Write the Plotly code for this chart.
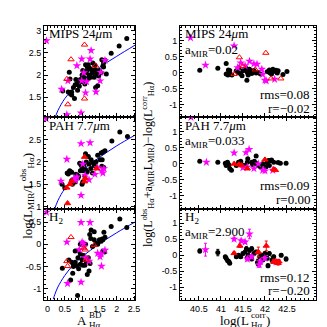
import plotly.graph_objects as go
from plotly.subplots import make_subplots

# ---- left column: log(L_MIR / L_Ha^obs) vs A_Ha^BD ----
mips_blk_a = [2.29, 2.07, 1.84, 1.57, 1.66, 1.62, 1.10, 1.18, 1.31, 1.37, 0.63, 0.65, 0.44, 0.60, 0.66, 0.70, 0.78, 0.87, 1.39, 1.45,
              1.00, 1.05, 1.10, 1.15, 1.20, 1.25, 1.12, 1.00, 0.95, 0.90, 0.85, 0.80, 0.92, 1.08, 1.18, 1.30, 1.35, 1.42, 1.50, 1.55,
              1.60, 1.48, 1.22, 1.28, 0.75, 0.70, 0.82, 1.02, 1.15, 1.38, 1.62, 1.70]
mips_blk_y = [2.82, 2.65, 2.49, 2.34, 2.33, 2.27, 2.23, 2.23, 2.27, 2.22, 2.06, 1.91, 1.64, 1.62, 1.58, 1.55, 1.47, 1.66, 1.72, 1.76,
              2.00, 1.95, 2.05, 2.10, 2.00, 1.95, 1.88, 1.85, 1.90, 1.82, 1.80, 1.78, 1.75, 1.80, 1.92, 2.05, 1.95, 2.02, 2.10, 2.05,
              2.20, 1.98, 2.15, 2.12, 1.72, 1.62, 1.90, 2.10, 2.18, 2.12, 2.18, 2.02]
mips_mag_a = [-0.03, 1.26, 0.99, 1.23, 0.85, 0.59, 0.41, 0.99, 1.54, 1.52, 1.40, 1.10, 1.66, 0.56, 0.97, 1.13, 1.05]
mips_mag_y = [2.77, 2.55, 2.36, 2.36, 2.21, 1.87, 1.68, 1.87, 2.06, 1.87, 1.62, 1.60, 2.33, 1.11, 1.15, 1.85, 2.05]
mips_red_a = [1.07, 0.68, 0.56, 1.39, 1.07, 0.59]
mips_red_y = [2.68, 2.35, 1.91, 2.21, 1.47, 1.34]

pah_blk_a = [2.31, 2.09, 1.86, 1.66, 1.60, 1.55, 1.45, 1.52, 1.58, 1.40, 1.32, 1.35, 1.26, 1.18, 1.10, 1.12, 1.20, 1.05, 0.97, 0.93,
             1.00, 0.95, 1.03, 1.10, 1.15, 1.25, 1.62, 1.57, 0.64, 0.67, 0.70, 0.57, 0.60, 0.82, 0.86, 0.90, 0.88, 0.78, 1.02, 1.00,
             0.70, 0.72, 0.42, 0.50, 0.80, 1.08, 1.30]
pah_blk_y = [2.57, 2.67, 2.47, 2.25, 2.22, 2.20, 2.15, 2.05, 2.05, 2.00, 1.98, 1.92, 2.05, 2.12, 2.18, 2.00, 1.95, 1.92, 1.93, 1.97,
             1.86, 1.80, 1.80, 1.83, 1.78, 1.85, 1.88, 1.90, 1.80, 1.78, 1.77, 1.75, 1.73, 1.72, 1.70, 1.68, 1.64, 1.62, 1.55, 1.50,
             1.58, 1.50, 1.50, 1.42, 1.55, 1.68, 1.75]
pah_mag_a = [-0.04, 0.97, 1.23, 0.56, 1.02, 0.39, 0.79, 0.80, 1.09, 1.37, 1.57, 1.63, 1.60, 1.45, 0.97, 1.20, 0.85]
pah_mag_y = [2.97, 2.41, 2.43, 2.06, 1.95, 1.57, 1.63, 1.58, 1.70, 1.72, 1.80, 1.85, 1.75, 1.87, 1.25, 1.60, 1.66]
pah_red_a = [0.58, 0.70, 0.56, 1.09, 1.42, 1.07, 1.07, 0.65]
pah_red_y = [1.07, 1.57, 1.42, 1.63, 1.85, 2.11, 1.56, 1.50]

h2_blk_a = [2.09, 2.29, 1.84, 1.66, 1.26, 1.35, 1.22, 1.25, 1.35, 1.50, 1.55, 1.60, 1.40, 1.45, 0.95, 1.00, 1.10, 0.80, 0.90, 0.95,
            0.88, 0.70, 0.75, 0.80, 0.85, 0.95, 1.02, 1.08, 1.12, 1.20, 1.15, 0.43, 0.75, 0.73, 0.67, 0.87, 1.60, 1.65, 1.30, 1.05,
            1.18, 0.62, 0.90, 1.00, 1.58, 1.63, 1.23]
h2_blk_y = [0.57, 0.38, 0.40, 0.16, 0.32, 0.28, 0.22, 0.13, 0.10, 0.10, 0.07, 0.10, 0.03, 0.00, 0.00, 0.03, 0.00, -0.15, -0.15, -0.22,
            -0.30, -0.40, -0.45, -0.40, -0.48, -0.45, -0.47, -0.47, -0.38, -0.60, -0.68, -0.54, -0.50, -0.65, -0.80, -1.15, -0.15, -0.17, -0.05, -0.25,
            -0.30, -0.35, -0.55, -0.35, 0.12, 0.27, -0.43]
h2_mag_a = [-0.03, 0.97, 1.23, 0.56, 1.04, 1.06, 1.52, 1.66, 1.45, 1.55, 1.56, 0.58, 0.97, 1.10, 1.20, 0.92, 1.00]
h2_mag_y = [0.72, 0.49, 0.49, 0.05, 0.01, -0.05, -0.28, -0.13, -0.20, -0.22, -0.49, -0.88, -0.85, -0.30, -0.38, -0.12, 0.05]
h2_red_a = [0.68, 0.56, 0.58, 1.09, 1.35, 1.12, 1.05]
h2_red_y = [0.16, -0.38, -0.49, -0.12, -0.02, -0.35, -0.08]

# model curves
curve_a = [0.17, 0.21, 0.3, 0.5, 0.75, 1.0, 1.5, 2.0, 2.55]
mips_curve = [0.93, 1.02, 1.20, 1.47, 1.70, 1.88, 2.17, 2.42, 2.68]
pah_curve = [0.86, 0.95, 1.13, 1.40, 1.63, 1.81, 2.10, 2.36, 2.61]
h2_curve = [-1.23, -1.13, -0.96, -0.70, -0.46, -0.28, 0.01, 0.26, 0.51]

# ---- right column: residuals vs log(L_Ha^corr) ----
r_mips_blk_x = [40.52, 40.93, 41.12, 41.17, 41.20, 41.12, 41.16, 41.20, 41.25, 41.41, 41.59, 41.40, 41.45, 41.50, 41.55, 41.60, 41.62, 41.68, 41.70,
                41.75, 41.80, 41.48, 41.35, 41.65, 42.05, 42.10, 42.12, 42.18, 42.20, 42.25, 42.30, 42.15, 42.41, 42.50, 41.85, 41.90, 42.28, 41.58]
r_mips_blk_y = [0.07, 0.13, 0.28, 0.08, 0.06, -0.05, -0.08, -0.04, -0.08, 0.15, -0.24, 0.00, -0.05, 0.05, 0.08, 0.00, -0.08, 0.05, -0.03,
                0.06, -0.02, -0.10, 0.05, 0.10, 0.02, 0.08, -0.02, 0.10, 0.03, 0.07, 0.05, -0.05, -0.06, 0.03, 0.00, -0.05, -0.02, 0.12]
r_mips_mag_x = [40.31, 40.65, 41.30, 41.65, 41.55, 41.75, 41.82, 41.93, 42.00, 42.03, 41.95, 42.22, 41.45, 41.38]
r_mips_mag_y = [1.08, 0.23, 0.83, 0.35, 0.21, 0.27, 0.26, 0.10, -0.24, -0.26, -0.06, -0.21, 0.30, 0.15]
r_mips_red_x = [41.30, 41.42, 41.78, 42.02, 42.14, 42.36, 41.50]
r_mips_red_y = [-0.05, 0.47, 0.09, 0.61, -0.19, -0.19, 0.20]

r_pah_blk_x = [40.52, 40.93, 41.10, 41.12, 41.15, 41.18, 41.20, 41.24, 41.40, 41.43, 41.45, 41.47, 41.61, 41.80, 41.70, 41.72, 41.76, 41.80,
               41.84, 42.05, 42.08, 42.12, 42.15, 42.20, 42.10, 42.02, 42.35, 42.30, 41.55, 41.60, 41.90, 41.95, 42.48, 41.35]
r_pah_blk_y = [0.08, 0.05, 0.02, -0.05, 0.05, -0.03, -0.15, -0.20, 0.05, 0.02, 0.08, -0.02, 0.16, 0.24, 0.05, -0.02, 0.08, 0.02,
               -0.05, 0.03, 0.10, 0.10, 0.12, 0.05, -0.05, -0.10, 0.02, 0.04, -0.05, 0.05, -0.10, 0.00, 0.02, -0.05]
r_pah_mag_x = [40.32, 40.67, 41.30, 41.57, 41.64, 41.60, 41.95, 42.00, 42.18, 41.50, 41.85, 41.75]
r_pah_mag_y = [1.45, 0.05, 0.34, 0.35, 0.45, -0.10, -0.20, -0.22, -0.20, -0.12, 0.00, -0.15]
r_pah_red_x = [41.41, 41.47, 42.00, 42.24, 42.20, 41.60, 41.30]
r_pah_red_y = [-0.02, -0.05, 0.13, -0.20, -0.17, -0.15, 0.00]

r_h2_blk_x = [40.52, 40.93, 41.10, 41.12, 41.15, 41.18, 41.20, 41.40, 41.45, 41.50, 41.55, 41.60, 41.65, 41.70, 41.75, 41.83, 41.80, 41.88,
              41.92, 42.07, 42.16, 42.00, 42.10, 42.20, 42.37, 42.48, 41.35, 41.62, 41.70, 41.95, 42.05, 41.58]
r_h2_blk_y = [0.13, 0.08, -0.05, -0.10, -0.17, -0.20, -0.25, 0.00, -0.05, 0.05, 0.10, -0.08, 0.15, 0.20, 0.05, -0.23, 0.10, -0.05,
              0.00, -0.33, -0.15, 0.05, 0.05, -0.05, 0.00, -0.12, -0.05, 0.00, -0.12, -0.15, -0.10, 0.20]
r_h2_blk_err = [0.06, 0.1, 0.04, 0.04, 0.04, 0.04, 0.04, 0.05, 0.05, 0.05, 0.05, 0.05, 0.06, 0.06, 0.05, 0.1, 0.05, 0.05,
                0.05, 0.06, 0.1, 0.05, 0.05, 0.05, 0.05, 0.06, 0.05, 0.05, 0.05, 0.05, 0.05, 0.06]
r_h2_mag_x = [40.65, 41.30, 41.46, 41.55, 41.65, 41.90, 41.87, 41.60, 41.70, 42.00, 42.25]
r_h2_mag_y = [0.17, 0.50, 0.45, 0.41, 0.66, -0.20, -0.30, -0.12, -0.05, -0.10, -0.22]
r_h2_mag_err = [0.2, 0.05, 0.05, 0.05, 0.15, 0.08, 0.08, 0.06, 0.06, 0.06, 0.06]
r_h2_red_x = [41.30, 41.43, 42.03, 42.20, 42.27, 42.32, 42.30, 41.85]
r_h2_red_y = [0.06, 0.29, 0.29, -0.20, -0.20, -0.20, -0.25, 0.10]
r_h2_red_err = [0.04, 0.05, 0.15, 0.06, 0.06, 0.06, 0.06, 0.15]

panel_names = ["MIPS 24<i>μ</i>m", "PAH 7.7<i>μ</i>m", "H<sub>2</sub>"]
a_mir_labels = ["a<sub>MIR</sub>=0.02", "a<sub>MIR</sub>=0.033", "a<sub>MIR</sub>=2.900"]
rms_labels = ["rms=0.08", "rms=0.09", "rms=0.12"]
r_labels = ["r=−0.02", "r=0.00", "r=−0.20"]

SERIF = "Liberation Serif, Times New Roman, serif"
SANS = "Liberation Sans, Arial, sans-serif"
MAG = "#ff00ff"
RED = "#ff0000"


def add_points(fig, row, col, blk, mag, red, red_open, errs=None):
    kw = lambda e, c: dict(error_y=dict(type="data", array=e, thickness=1, width=1.5, color=c)) if e else {}
    fig.add_trace(go.Scatter(x=blk[0], y=blk[1], mode="markers", marker=dict(symbol="circle", size=5, color="black"),
                             **kw(errs and errs[0], "black")), row=row, col=col)
    fig.add_trace(go.Scatter(x=mag[0], y=mag[1], mode="markers", marker=dict(symbol="star", size=6.5, color=MAG),
                             **kw(errs and errs[1], MAG)), row=row, col=col)
    sym = "triangle-up-open" if red_open else "triangle-up"
    fig.add_trace(go.Scatter(x=red[0], y=red[1], mode="markers",
                             marker=dict(symbol=sym, size=5.5, color=RED, line=dict(width=1, color=RED)),
                             **kw(errs and errs[2], RED)), row=row, col=col)


fig = make_subplots(rows=3, cols=2, vertical_spacing=0, horizontal_spacing=0.165, column_widths=[0.401, 0.599])

# left column
for row, cy in zip([1, 2, 3], [mips_curve, pah_curve, h2_curve]):
    fig.add_trace(go.Scatter(x=curve_a, y=cy, mode="lines", line=dict(color="#0000ff", width=1, shape="spline")),
                  row=row, col=1)
add_points(fig, 1, 1, (mips_blk_a, mips_blk_y), (mips_mag_a, mips_mag_y), (mips_red_a, mips_red_y), True)
add_points(fig, 2, 1, (pah_blk_a, pah_blk_y), (pah_mag_a, pah_mag_y), (pah_red_a, pah_red_y), False)
add_points(fig, 3, 1, (h2_blk_a, h2_blk_y), (h2_mag_a, h2_mag_y), (h2_red_a, h2_red_y), True)

# right column
for row in [1, 2, 3]:
    fig.add_hline(y=0, line=dict(color="#33dd33", width=1.3, dash="dash"), row=row, col=2)
add_points(fig, 1, 2, (r_mips_blk_x, r_mips_blk_y), (r_mips_mag_x, r_mips_mag_y), (r_mips_red_x, r_mips_red_y), True)
add_points(fig, 2, 2, (r_pah_blk_x, r_pah_blk_y), (r_pah_mag_x, r_pah_mag_y), (r_pah_red_x, r_pah_red_y), False)
add_points(fig, 3, 2, (r_h2_blk_x, r_h2_blk_y), (r_h2_mag_x, r_h2_mag_y), (r_h2_red_x, r_h2_red_y), False,
           errs=(r_h2_blk_err, r_h2_mag_err, r_h2_red_err))

axis_style = dict(showline=True, linecolor="black", linewidth=1, mirror="allticks", ticks="inside", ticklen=4,
                  tickcolor="black", showgrid=False, zeroline=False, tickfont=dict(family=SANS, size=9, color="black"),
                  minor=dict(ticks="inside", ticklen=2, tickcolor="black", dtick=0.1))

left_ranges = [[1.05, 3.1], [0.95, 3.0], [-1.25, 0.8]]
left_ticks = [[1.5, 2, 2.5, 3], [1, 1.5, 2, 2.5], [-1, -0.5, 0, 0.5]]
for i, row in enumerate([1, 2, 3]):
    fig.update_xaxes(axis_style, range=[-0.1, 2.53], tickvals=[0, 0.5, 1, 1.5, 2, 2.5], ticktext=["0", "0.5", "1", "1.5", "2", "2.5"],
                     showticklabels=(row == 3), row=row, col=1)
    fig.update_yaxes(axis_style, range=left_ranges[i], tickvals=left_ticks[i], row=row, col=1)
    fig.update_xaxes(axis_style, range=[40.07, 43.16], tickvals=[40.5, 41, 41.5, 42, 42.5], ticktext=["40.5", "41", "41.5", "42", "42.5"],
                     showticklabels=(row == 3), row=row, col=2)
    fig.update_yaxes(axis_style, range=[-1.4, 1.45], tickvals=[-1, -0.5, 0, 0.5, 1], ticktext=["-1", "-0.5", "0", "0.5", "1"],
                     row=row, col=2)
fig.update_yaxes(ticktext=["-1", "-0.5", "0", "0.5"], row=3, col=1)

txt = dict(family=SERIF, size=13, color="black")
for i in range(3):
    lx, ly = ("x" if i == 0 else f"x{2 * i + 1}"), ("y" if i == 0 else f"y{2 * i + 1}")
    rx, ry = f"x{2 * i + 2}", f"y{2 * i + 2}"
    fig.add_annotation(text=panel_names[i], xref=f"{lx} domain", yref=f"{ly} domain", x=0.03, y=1.02,
                       xanchor="left", yanchor="top", showarrow=False, font=txt)
    fig.add_annotation(text=panel_names[i], xref=f"{rx} domain", yref=f"{ry} domain", x=0.02, y=1.02,
                       xanchor="left", yanchor="top", showarrow=False, font=txt)
    fig.add_annotation(text=a_mir_labels[i], xref=f"{rx} domain", yref=f"{ry} domain", x=0.02, y=0.85,
                       xanchor="left", yanchor="top", showarrow=False, font=txt)
    fig.add_annotation(text=rms_labels[i], xref=f"{rx} domain", yref=f"{ry} domain", x=0.97, y=0.25,
                       xanchor="right", yanchor="middle", showarrow=False, font=txt)
    fig.add_annotation(text=r_labels[i], xref=f"{rx} domain", yref=f"{ry} domain", x=0.97, y=0.1,
                       xanchor="right", yanchor="middle", showarrow=False, font=txt)

# x titles with stacked super/subscripts built from separate pieces
big = dict(family=SERIF, size=13, color="black")
small = dict(family=SERIF, size=9, color="black")
x_title_parts = [
    ("A", 0.1636, -0.073, "right", big),
    ("BD", 0.1618, -0.0547, "left", small),
    ("Hα", 0.1618, -0.093, "left", small),
    ("log(L", 0.7574, -0.073, "right", big),
    ("corr", 0.7556, -0.0547, "left", small),
    ("Hα", 0.7556, -0.093, "left", small),
    (")", 0.812, -0.073, "left", big),
]
for t, px, py, anchor, f in x_title_parts:
    fig.add_annotation(text=t, xref="paper", yref="paper", x=px, y=py, xanchor=anchor, yanchor="middle",
                       showarrow=False, font=f, borderpad=0)

fig.add_annotation(text="log(L<sub>MIR</sub>/L<sup>obs</sup><sub>Hα</sub>)", xref="paper", yref="paper", x=-0.103, y=0.38,
                   textangle=-90, showarrow=False, font=dict(family=SERIF, size=13, color="black"))
fig.add_annotation(text="log(L<sup>obs</sup><sub>Hα</sub>+a<sub>MIR</sub>L<sub>MIR</sub>)−log(L<sup>corr</sup><sub>Hα</sub>)",
                   xref="paper", yref="paper", x=0.382, y=0.496, textangle=-90, showarrow=False,
                   font=dict(family=SERIF, size=12, color="black"))

fig.update_layout(width=327, height=327, margin=dict(l=36, r=19, t=18, b=35), showlegend=False,
                  plot_bgcolor="white", paper_bgcolor="white")

fig.write_html("out.html")
